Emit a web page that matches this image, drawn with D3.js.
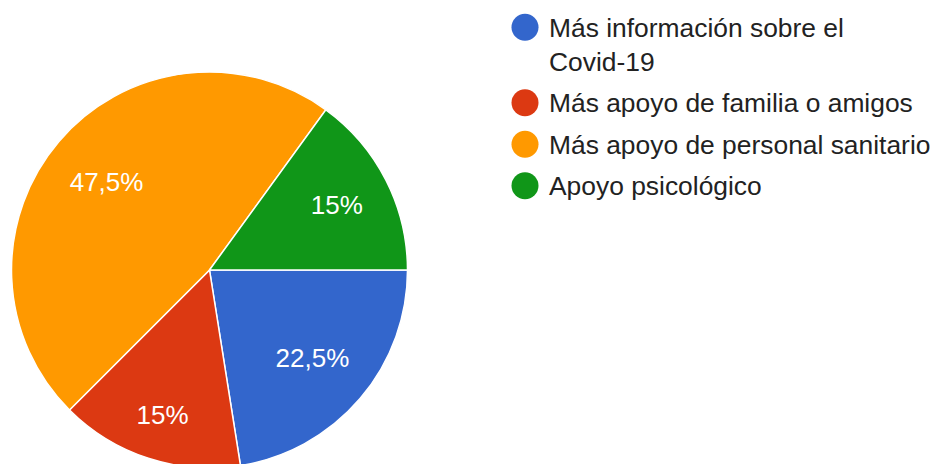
<!doctype html>
<html lang="es">
<head>
<meta charset="utf-8">
<title>Pie</title>
<script src="https://cdn.jsdelivr.net/npm/d3@7"></script>
<style>
  body { margin: 0; background: #fff; }
  svg { display: block; font-family: Arial, "Liberation Sans", sans-serif; }
</style>
</head>
<body>
<svg id="chart" width="934" height="464"></svg>
<script>
// data, in drawing order (clockwise from 3 o'clock)
var categories = [
  "Más información sobre el Covid-19",
  "Más apoyo de familia o amigos",
  "Más apoyo de personal sanitario",
  "Apoyo psicológico"
];
var values = [22.5, 15, 47.5, 15];
var colors = ["#3366cc", "#dc3912", "#ff9900", "#109618"];

var svg = d3.select("#chart");
var cx = 209.5, cy = 270, r = 198;
var fontSize = 26;
var capH = fontSize * 0.716;

var pie = d3.pie().sort(null)
  .startAngle(Math.PI / 2)
  .endAngle(Math.PI / 2 + 2 * Math.PI);
var arc = d3.arc().innerRadius(0).outerRadius(r);
var arcs = pie(values);

var g = svg.append("g").attr("transform", "translate(" + cx + "," + cy + ")");

g.selectAll("path.slice")
  .data(arcs)
  .join("path")
  .attr("class", "slice")
  .attr("d", arc)
  .attr("fill", (d, i) => colors[i])
  .attr("stroke", "#fff")
  .attr("stroke-width", 1.5);

// labels: far corner of the text box sits on a fixed radius
var R0 = 0.86 * r;
var fmt = v => String(v).replace(".", ",") + "%";

var labels = g.selectAll("text.pct")
  .data(arcs)
  .join("text")
  .attr("class", "pct")
  .attr("fill", "#fff")
  .attr("font-size", fontSize)
  .attr("text-anchor", "middle")
  .text(d => fmt(d.data));

labels.each(function(d) {
  var w = this.getComputedTextLength();
  var th = (d.startAngle + d.endAngle) / 2;
  var ux = Math.sin(th), uy = -Math.cos(th);
  var c = [Math.sign(ux) * w / 2, Math.sign(uy) * capH / 2];
  var uc = ux * c[0] + uy * c[1];
  var cc = c[0] * c[0] + c[1] * c[1];
  var dist = -uc + Math.sqrt(uc * uc - cc + R0 * R0);
  d3.select(this)
    .attr("x", dist * ux)
    .attr("y", dist * uy + capH / 2);
});

// legend
var lx = 525, textX = 549, maxW = 386;
var legendFont = 26.4;
var lineH = 34, itemGap = 41.5;
var y = 36.5;

categories.forEach(function(cat, i) {
  var t = svg.append("text")
    .attr("x", textX)
    .attr("font-size", legendFont)
    .attr("fill", "#222");
  // simple word wrap
  var words = cat.split(" ");
  var lines = [], cur = "";
  words.forEach(function(w) {
    var test = cur ? cur + " " + w : w;
    t.text(test);
    if (t.node().getComputedTextLength() > maxW && cur) {
      lines.push(cur);
      cur = w;
    } else {
      cur = test;
    }
  });
  lines.push(cur);
  t.text(null);
  lines.forEach(function(l, j) {
    t.append("tspan").attr("x", textX).attr("y", y + j * lineH).text(l);
  });

  svg.append("circle")
    .attr("cx", lx)
    .attr("cy", y - capH / 2)
    .attr("r", 13.5)
    .attr("fill", colors[i]);

  y += (lines.length - 1) * lineH + itemGap;
});
</script>
</body>
</html>
